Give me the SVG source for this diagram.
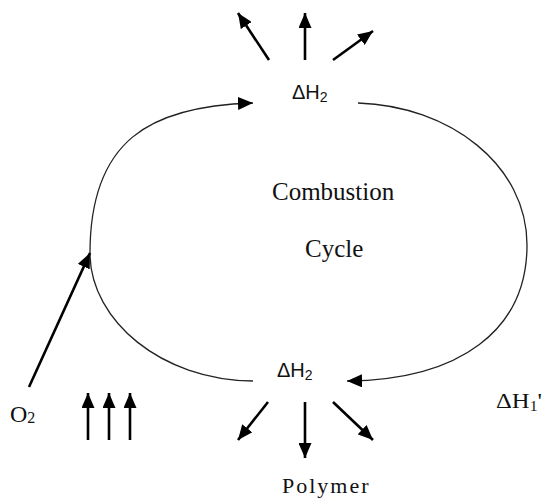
<svg xmlns="http://www.w3.org/2000/svg" width="546" height="499" viewBox="0 0 546 499">
<style>
.serif{font-family:"Liberation Serif","Times New Roman",serif;fill:#111}
.sans{font-family:"Liberation Sans",Arial,sans-serif;fill:#111}
.arc{fill:none;stroke:#222;stroke-width:1.3}
.thick{fill:none;stroke:#000;stroke-width:2.6}
</style>
<defs>
<marker id="ah" markerUnits="userSpaceOnUse" markerWidth="15" markerHeight="13" refX="15" refY="6.5" orient="auto">
<path d="M0,0 L15,6.5 L0,13 z" fill="#000"/>
</marker>
</defs>
<rect width="546" height="499" fill="#fff"/>
<g id="connectors">
<path class="arc" d="M90,256 C89,140 150,106 253,103" marker-end="url(#ah)"/>
<path class="arc" d="M358,103 C450,106 527,165 527,245 C527,330 460,380 347,381" marker-end="url(#ah)"/>
<path class="arc" d="M90,256 C92,320 160,380 253,381"/>
<line class="thick" x1="29" y1="387" x2="90" y2="253" marker-end="url(#ah)"/>
<line class="thick" x1="88" y1="440" x2="88" y2="393" marker-end="url(#ah)"/>
<line class="thick" x1="109" y1="440" x2="109" y2="393" marker-end="url(#ah)"/>
<line class="thick" x1="130" y1="440" x2="130" y2="393" marker-end="url(#ah)"/>
<line class="thick" x1="269" y1="60" x2="238" y2="13" marker-end="url(#ah)"/>
<line class="thick" x1="305" y1="60" x2="305" y2="13" marker-end="url(#ah)"/>
<line class="thick" x1="333" y1="60" x2="373" y2="31" marker-end="url(#ah)"/>
<line class="thick" x1="268" y1="402" x2="238" y2="440" marker-end="url(#ah)"/>
<line class="thick" x1="305" y1="402" x2="305" y2="458" marker-end="url(#ah)"/>
<line class="thick" x1="333" y1="402" x2="373" y2="440" marker-end="url(#ah)"/>
</g>
<g id="top-dh2"><text class="sans" x="292" y="99" font-size="20">ΔH<tspan font-size="14" dy="3">2</tspan></text></g>
<g id="bottom-dh2"><text class="sans" x="277" y="377" font-size="20">ΔH<tspan font-size="14" dy="3">2</tspan></text></g>
<g id="cycle-label">
<text class="serif" x="272" y="200" font-size="25">Combustion</text>
<text class="serif" x="305" y="257" font-size="25">Cycle</text>
</g>
<g id="polymer"><text class="serif" x="282" y="493" font-size="22" letter-spacing="2">Polymer</text></g>
<g id="o2"><text class="serif" x="10" y="422" font-size="24">O<tspan font-size="16" dy="1">2</tspan></text></g>
<g id="dh1"><text class="serif" transform="translate(496,408) scale(1.12,1)" font-size="22">ΔH<tspan font-size="14" dy="3">1</tspan><tspan dy="-3">'</tspan></text></g>
</svg>
